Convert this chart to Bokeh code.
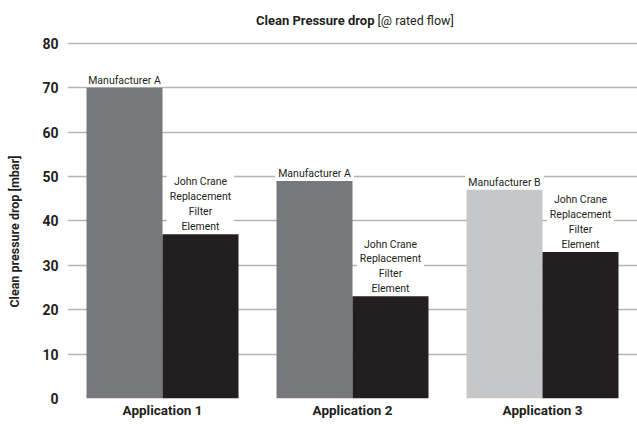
from bokeh.plotting import figure
from bokeh.models import ColumnDataSource, Range1d, FactorRange, Label, FixedTicker
from bokeh.core.properties import value
from bokeh.transform import dodge
from bokeh.embed import file_html
from bokeh.resources import INLINE

applications = ["Application 1", "Application 2", "Application 3"]
competitor_values = [70, 49, 47]
competitor_names = ["Manufacturer A", "Manufacturer A", "Manufacturer B"]
competitor_colors = ["#77787b", "#77787b", "#c6c7c9"]
johncrane_values = [37, 23, 33]
johncrane_name = "John Crane\nReplacement\nFilter\nElement"
y_ticks = [0, 10, 20, 30, 40, 50, 60, 70, 80]
title_bold = "Clean Pressure drop"
title_normal = "[@ rated flow]"
y_label = "Clean pressure drop [mbar]"

FONT = "Roboto"
DARK = "#231f20"

src = ColumnDataSource(dict(
    app=applications,
    comp=competitor_values,
    comp_name=competitor_names,
    comp_color=competitor_colors,
    jc=johncrane_values,
    jc_name=[johncrane_name] * len(applications),
))

p = figure(width=637, height=424, output_backend="svg", toolbar_location=None,
           x_range=FactorRange(*applications, range_padding=0),
           y_range=Range1d(0, 88.5),
           min_border_left=67, min_border_right=0, min_border_top=5, min_border_bottom=26)
p.outline_line_color = None
p.background_fill_color = "white"

p.vbar(x=dodge("app", -0.2, range=p.x_range), top="comp", width=0.4, bottom=0,
       source=src, fill_color="comp_color", line_color=None)
p.vbar(x=dodge("app", 0.2, range=p.x_range), top="jc", width=0.4, bottom=0,
       source=src, fill_color=DARK, line_color=None)

pad = dict(left=3, right=3, top=2, bottom=0)
p.text(x=dodge("app", -0.2, range=p.x_range), y="comp", text="comp_name", source=src,
       text_align="center", text_baseline="bottom", y_offset=-1,
       text_font=value(FONT), text_font_size="10.5px", text_color=DARK,
       background_fill_color="white", padding=pad)
p.text(x=dodge("app", 0.2, range=p.x_range), y="jc", text="jc_name", source=src,
       text_align="center", text_baseline="bottom", y_offset=-1,
       text_font=value(FONT), text_font_size="10.5px", text_color=DARK, text_line_height=1.15,
       background_fill_color="white", padding=pad)

p.title.visible = False
p.add_layout(Label(x=307, y=85.2, x_units="screen", text=title_bold,
                   text_align="right", text_baseline="middle", text_font=FONT,
                   text_font_style="bold", text_font_size="13px", text_color=DARK))
p.add_layout(Label(x=310, y=85.2, x_units="screen", text=title_normal,
                   text_align="left", text_baseline="middle", text_font=FONT,
                   text_font_size="12.5px", text_color=DARK))

p.xgrid.grid_line_color = None
p.ygrid.grid_line_color = "#b5b5b7"
p.ygrid.grid_line_width = 1.5
p.yaxis.ticker = FixedTicker(ticks=y_ticks)

for ax in (p.xaxis[0], p.yaxis[0]):
    ax.axis_line_color = None
    ax.major_tick_line_color = None
    ax.minor_tick_line_color = None
    ax.major_tick_out = 0
    ax.major_tick_in = 0
    ax.major_label_text_font = FONT
    ax.major_label_text_font_style = "bold"
    ax.major_label_text_color = DARK

p.xaxis.major_label_text_font_size = "13.5px"
p.xaxis.major_label_standoff = 3
p.yaxis.major_label_text_font_size = "14px"
p.yaxis.major_label_standoff = 9
# trailing no-break spaces shift the centred label down onto the 0-80 band
p.yaxis.axis_label = y_label + "\u00a0" * 19
p.yaxis.axis_label_text_font = FONT
p.yaxis.axis_label_text_font_style = "bold"
p.yaxis.axis_label_text_font_size = "12.5px"
p.yaxis.axis_label_text_color = DARK
p.yaxis.axis_label_standoff = 17

open("out.html", "w").write(file_html(p, INLINE))
